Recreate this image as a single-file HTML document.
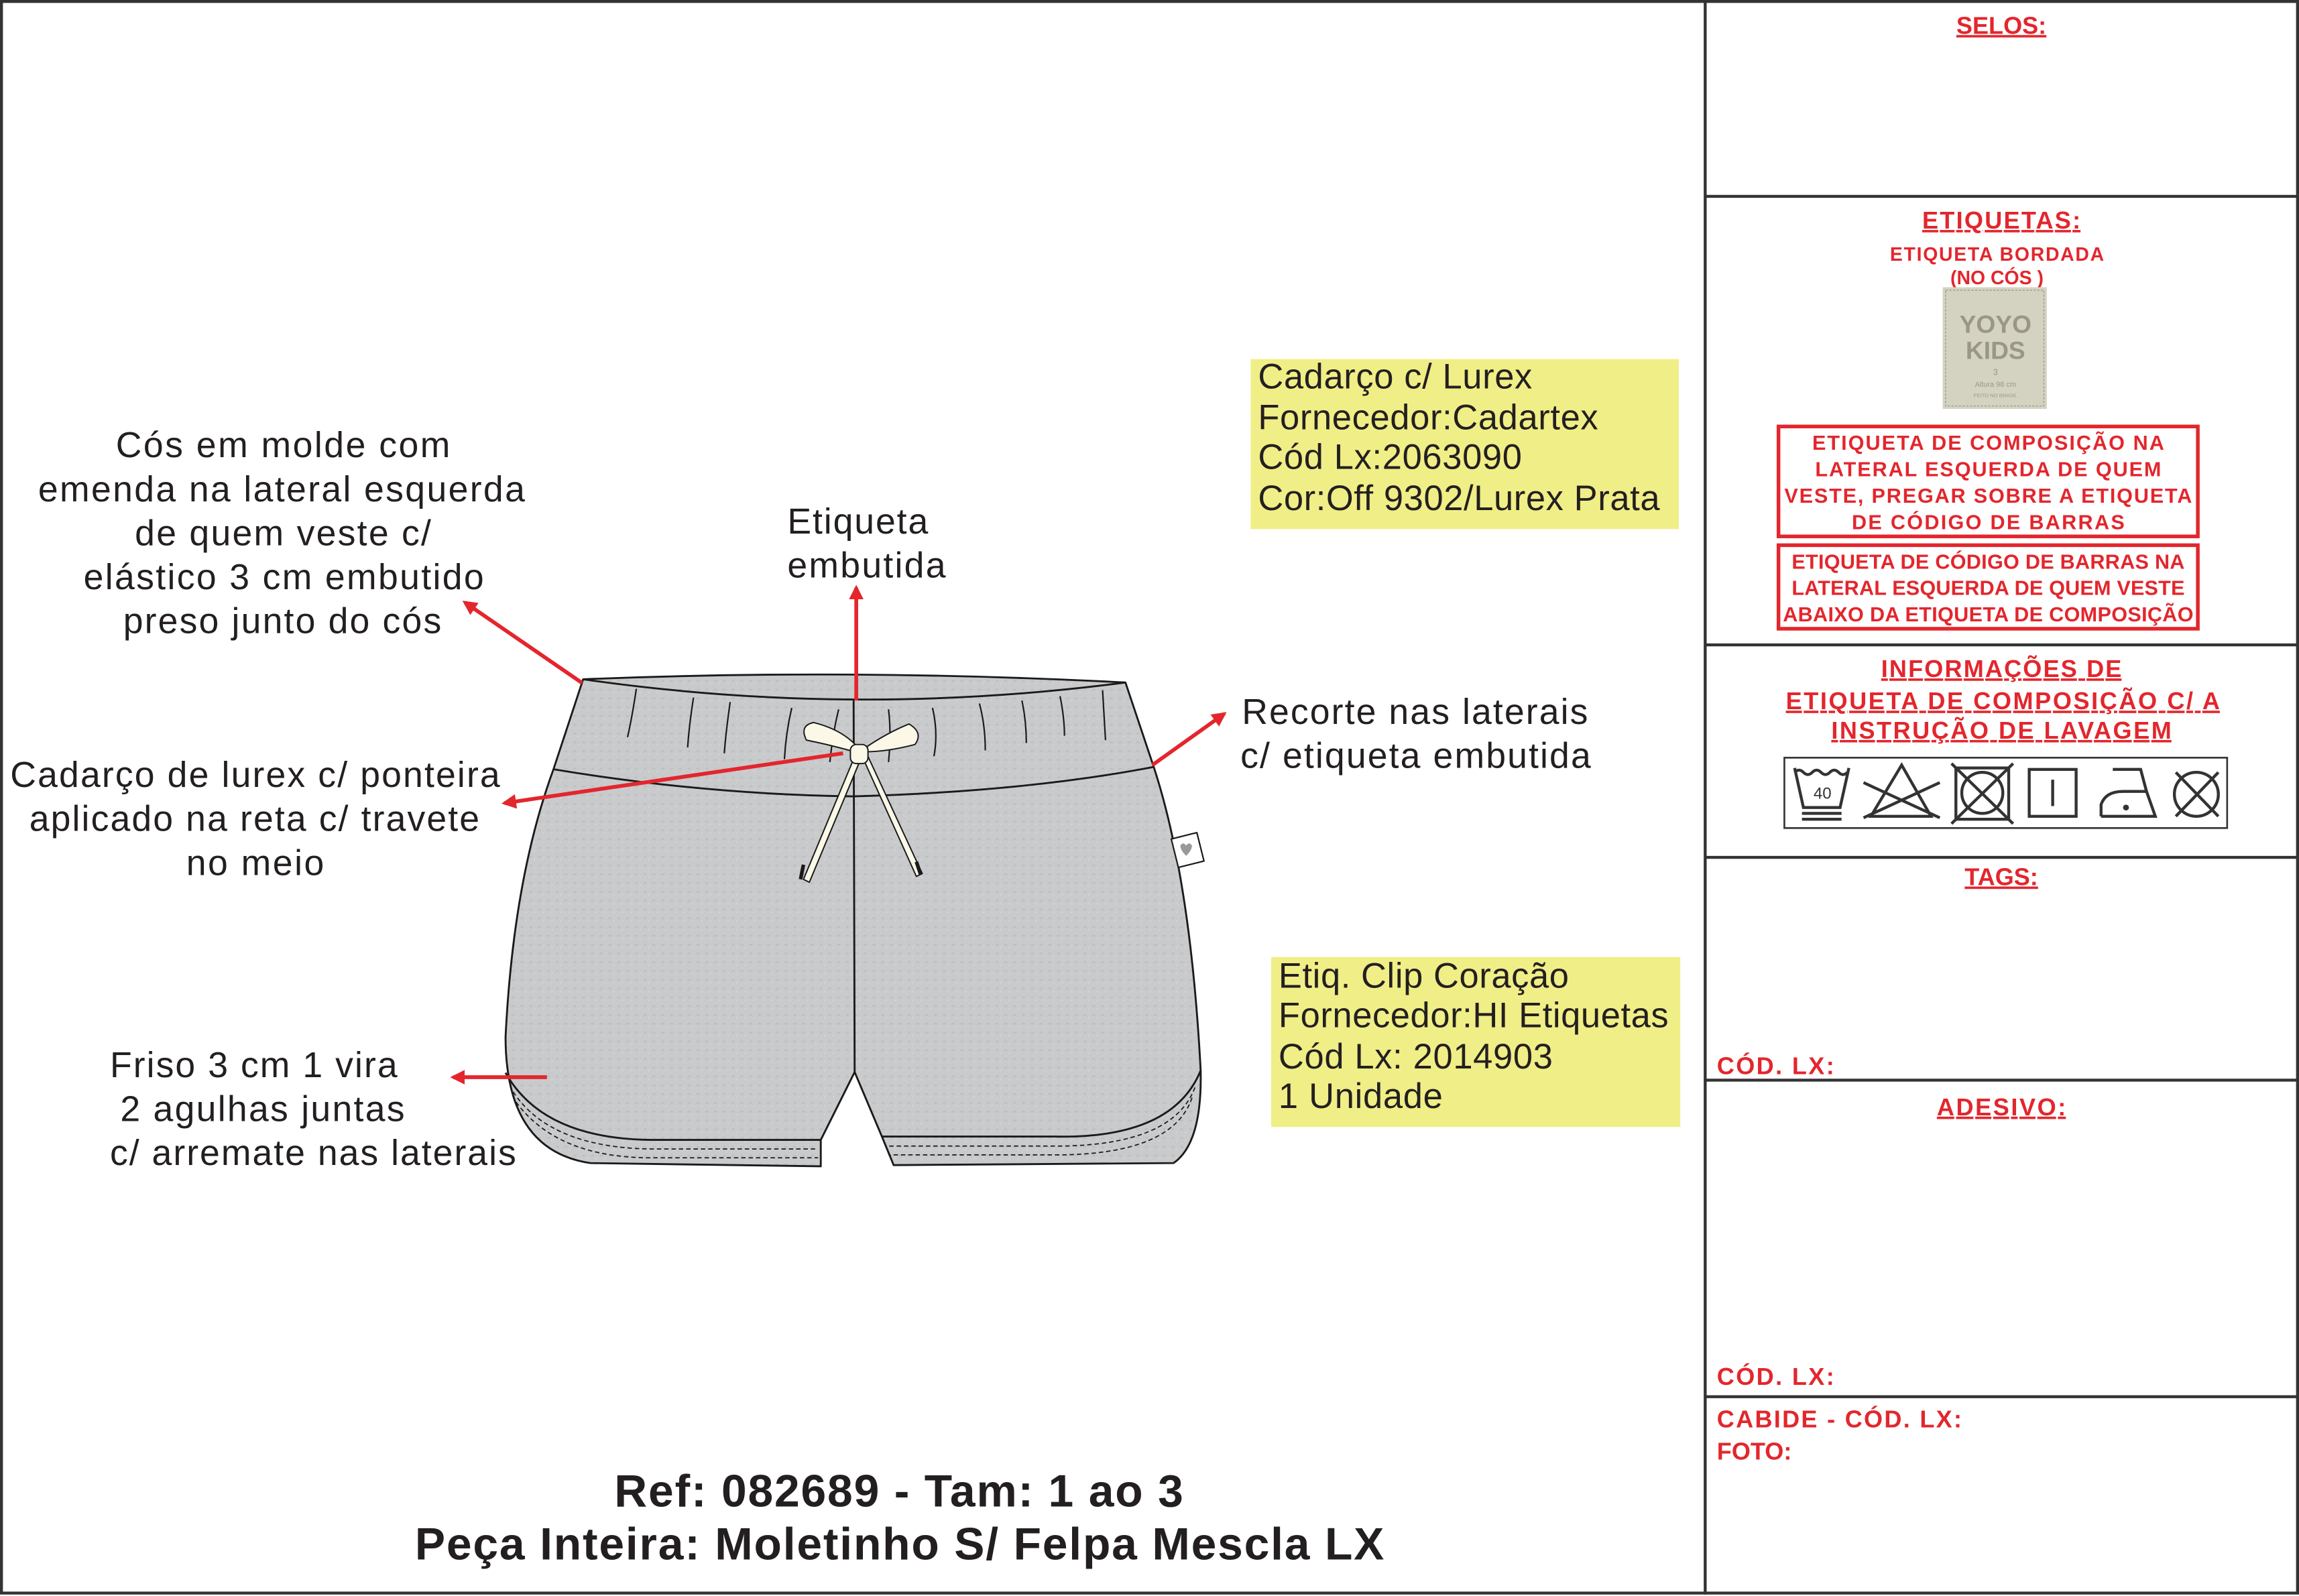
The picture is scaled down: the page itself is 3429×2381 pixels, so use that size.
<!DOCTYPE html>
<html><head><meta charset="utf-8"><style>html,body{margin:0;padding:0;background:#fff}svg{display:block}</style></head>
<body>
<svg width="3429" height="2381" viewBox="0 0 1568 1089" preserveAspectRatio="none" xmlns="http://www.w3.org/2000/svg" font-family="Liberation Sans, Arial, sans-serif">
<defs>
<marker id="ah" markerWidth="10" markerHeight="10" refX="8" refY="5" orient="auto" markerUnits="userSpaceOnUse">
<path d="M0,0 L10,5 L0,10 Z" fill="#e3262d"/></marker>
<pattern id="mesc" width="6" height="6" patternUnits="userSpaceOnUse"><rect width="6" height="6" fill="#c9cacc"/><rect x="1" y="2" width="2" height="1" fill="#bcbdc0"/><rect x="4" y="4" width="1" height="1" fill="#d3d4d6"/></pattern>
</defs>
<rect x="0" y="0" width="1568" height="1089" fill="#fff"/>
<rect x="1" y="1" width="1566" height="1086" fill="none" stroke="#333" stroke-width="2"/>
<line x1="1163" y1="1" x2="1163" y2="1088" stroke="#333" stroke-width="2"/>
<g stroke="#333" stroke-width="2">
<line x1="1163" y1="134" x2="1567" y2="134"/><line x1="1163" y1="440" x2="1567" y2="440"/>
<line x1="1163" y1="585" x2="1567" y2="585"/><line x1="1163" y1="737" x2="1567" y2="737"/>
<line x1="1163" y1="953" x2="1567" y2="953"/></g>

<g fill="#e3262d" font-weight="bold" text-anchor="middle">
<text x="1365" y="23" font-size="16.5" text-decoration="underline">SELOS:</text>
<text x="1365" y="156" font-size="16.5" text-decoration="underline" textLength="108">ETIQUETAS:</text>
<text x="1362" y="178" font-size="13" textLength="146">ETIQUETA BORDADA</text>
<text x="1362" y="194" font-size="13">(NO CÓS )</text>
<text x="1356" y="307" font-size="14" textLength="240">ETIQUETA DE COMPOSIÇÃO NA</text>
<text x="1356" y="325" font-size="14" textLength="236">LATERAL ESQUERDA DE QUEM</text>
<text x="1356" y="343" font-size="14" textLength="278">VESTE, PREGAR SOBRE A ETIQUETA</text>
<text x="1356" y="361" font-size="14" textLength="186">DE CÓDIGO DE BARRAS</text>
<text x="1356" y="388" font-size="14" textLength="268">ETIQUETA DE CÓDIGO DE BARRAS NA</text>
<text x="1356" y="406" font-size="14" textLength="268">LATERAL ESQUERDA DE QUEM VESTE</text>
<text x="1356" y="424" font-size="14" textLength="280">ABAIXO DA ETIQUETA DE COMPOSIÇÃO</text>
<text x="1365" y="462" font-size="16.5" text-decoration="underline" textLength="164">INFORMAÇÕES DE</text>
<text x="1366" y="484" font-size="16.5" text-decoration="underline" textLength="296">ETIQUETA DE COMPOSIÇÃO C/ A </text>
<text x="1365" y="504" font-size="16.5" text-decoration="underline" textLength="232">INSTRUÇÃO DE LAVAGEM</text>
<text x="1365" y="604" font-size="16.5" text-decoration="underline">TAGS:</text>
<text x="1365" y="761" font-size="16.5" text-decoration="underline" textLength="88">ADESIVO:</text>
</g>
<g fill="#e3262d" font-weight="bold" font-size="16.5">
<text x="1171" y="733" textLength="80">CÓD. LX:</text>
<text x="1171" y="945" textLength="80">CÓD. LX:</text>
<text x="1171" y="974" textLength="167">CABIDE - CÓD. LX:</text>
<text x="1171" y="996">FOTO:</text>
</g>
<rect x="1213" y="291" width="286" height="75" fill="none" stroke="#e3262d" stroke-width="2.5"/>
<rect x="1213" y="372" width="286" height="57" fill="none" stroke="#e3262d" stroke-width="2.5"/>

<rect x="1325" y="196" width="71" height="83" fill="#d4d3c1"/>
<rect x="1327" y="198" width="67" height="79" fill="none" stroke="#9a9a8a" stroke-width="0.6" stroke-dasharray="1.5,1"/>
<g fill="#9b9686" text-anchor="middle" font-weight="bold">
<text x="1361" y="227" font-size="17">YOYO</text>
<text x="1361" y="245" font-size="17">KIDS</text>
<text x="1361" y="256" font-size="6" font-weight="normal">3</text>
<text x="1361" y="264" font-size="5" font-weight="normal">Altura 98 cm</text>
<text x="1361" y="271" font-size="3.5" font-weight="normal">FEITO NO BRASIL</text>
</g>

<rect x="1217" y="517" width="302" height="48" fill="#fff" stroke="#333" stroke-width="1.2"/>
<g fill="none" stroke="#333" stroke-width="2">
<path d="M1224,524 L1230,551 L1255,551 L1261,524"/>
<path d="M1224,527 q3,-3 6,0 q3,3 6,0 q3,-3 6,0 q3,3 6,0 q3,-3 6,0 q3,3 6,0"/>
<line x1="1229" y1="555" x2="1256" y2="555"/><line x1="1229" y1="559" x2="1256" y2="559"/>
<path d="M1297,522 L1317,557 L1276,557 Z"/><line x1="1271" y1="534" x2="1323" y2="558"/><line x1="1271" y1="558" x2="1323" y2="534"/>
<rect x="1334" y="524" width="36" height="35"/><circle cx="1352" cy="541" r="14"/><line x1="1331" y1="521" x2="1373" y2="562"/><line x1="1373" y1="521" x2="1331" y2="562"/>
<rect x="1384" y="525" width="32" height="32"/><line x1="1400" y1="532" x2="1400" y2="550"/>
<path d="M1433,557 L1433,549 Q1436,540 1448,540 L1464,540 L1460,525 L1441,525 M1433,557 L1470,557 L1464,540"/>
<circle cx="1498" cy="542" r="15"/><line x1="1484" y1="527" x2="1513" y2="557"/><line x1="1513" y1="527" x2="1484" y2="557"/>
</g>
<circle cx="1450" cy="551" r="2" fill="#333"/>
<text x="1243" y="545" font-size="11" fill="#333" text-anchor="middle">40</text>

<rect x="853" y="245" width="292" height="116" fill="#f0ee86"/>
<rect x="867" y="653" width="279" height="116" fill="#f0ee86"/>
<g fill="#231f20" font-size="24">
<text x="858" y="265" textLength="187">Cadarço c/ Lurex</text>
<text x="858" y="293" textLength="232">Fornecedor:Cadartex</text>
<text x="858" y="320" textLength="180">Cód Lx:2063090</text>
<text x="858" y="348" textLength="274">Cor:Off 9302/Lurex Prata</text>
<text x="872" y="674" textLength="198">Etiq. Clip Coração</text>
<text x="872" y="701" textLength="266">Fornecedor:HI Etiquetas</text>
<text x="872" y="729" textLength="187">Cód Lx: 2014903</text>
<text x="872" y="756" textLength="112">1 Unidade</text>
</g>
<g fill="#231f20" font-size="24.5">
<text x="79" y="312" textLength="228">Cós em molde com</text>
<text x="26" y="342" textLength="332">emenda na lateral esquerda</text>
<text x="92" y="372" textLength="202">de quem veste c/</text>
<text x="57" y="402" textLength="273">elástico 3 cm embutido</text>
<text x="84" y="432" textLength="217">preso junto do cós</text>
<text x="537" y="364" textLength="96">Etiqueta</text>
<text x="537" y="394" textLength="108">embutida</text>
<text x="7" y="537" textLength="334">Cadarço de lurex c/ ponteira</text>
<text x="20" y="567" textLength="307">aplicado na reta c/ travete</text>
<text x="127" y="597" textLength="94">no meio</text>
<text x="75" y="735" textLength="196">Friso 3 cm 1 vira</text>
<text x="82" y="765" textLength="194">2 agulhas juntas</text>
<text x="75" y="795" textLength="277">c/ arremate nas laterais</text>
<text x="847" y="494" textLength="236">Recorte nas laterais</text>
<text x="846" y="524" textLength="239">c/ etiqueta embutida</text>
</g>
<g fill="#231f20" font-size="31" font-weight="bold">
<text x="419" y="1028" textLength="388">Ref: 082689 - Tam: 1 ao 3</text>
<text x="283" y="1064" textLength="661">Peça Inteira: Moletinho S/ Felpa Mescla LX</text>
</g>

<g stroke="#1a1a1a" stroke-width="1.3" stroke-linejoin="round">
<path d="M397.7,463.5 Q582,456 767.6,465.7 L786.9,523.3 Q812,600 818.9,730.4 Q820,780 800.4,793.6 L609.5,795 L601.5,775.5 L582.9,731.5 L559.8,777.8 L559.8,795.8 L402.6,793.6 Q345,785 344.8,707.8 Q350,600 377.5,524.9 Z" fill="url(#mesc)"/>
<path d="M397.7,463.5 Q582,490 767.6,465.7" fill="none"/>
<path d="M377.5,524.9 Q480,542 582.2,543.4 Q700,540 786.9,523.3" fill="none"/>
<path d="M582.2,478 L582.9,731.5" fill="none"/>
<path d="M344.8,732 Q370,777 444,777.8 L559.8,777.8" fill="none"/>
<path d="M818.9,730.4 Q800,777 720,775.5 L601.5,775.5" fill="none"/>
<g stroke-dasharray="3,2" stroke-width="0.8" fill="none">
<path d="M350,745 Q375,783 444,784 L558,784"/><path d="M352,752 Q380,790 444,790 L558,790"/>
<path d="M815,742 Q800,782 720,782 L604,782"/><path d="M813,749 Q800,788 720,788 L606,788"/>
</g>
<g fill="none" stroke-width="1">
<path d="M434,470 Q431,490 428,503"/><path d="M473,476 Q470,495 469,510"/><path d="M498,479 Q495,500 494,514"/>
<path d="M540,483 Q536,500 535,518"/><path d="M572,484 Q568,500 566,520"/><path d="M606,484 Q608,500 606,520"/>
<path d="M636,483 Q640,500 637,516"/><path d="M668,480 Q672,495 672,512"/><path d="M697,478 Q700,492 700,507"/>
<path d="M723,475 Q726,490 726,502"/><path d="M752,471 Q753,488 754,505"/>
</g>
<g fill="#fbf8e8" stroke-width="0.9">
<path d="M583,516 L548,600 L552,602 L587,518 Z"/><path d="M588,516 L625,598 L629,596 L591,514 Z"/>
<path d="M583,513 Q565,508 550,505 Q545,495 555,493 Q575,498 585,510 Z"/>
<path d="M589,511 Q605,500 620,494 Q630,500 624,508 Q605,513 589,513 Z"/>
<rect x="580" y="508" width="12" height="13" rx="4"/>
</g>
<path d="M548,590 L546,600 M625,588 L628,597" stroke-width="2.5"/>
<g transform="rotate(-14 810 580)"><rect x="801" y="570" width="18" height="20" fill="#fff" stroke-width="1"/></g>
</g>
<path d="M805,577 q2,-3 4,0 q2,-3 4,0 q0,3 -4,7 q-4,-4 -4,-7z" fill="#999"/>

<g stroke="#e3262d" stroke-width="2.6" marker-end="url(#ah)">
<line x1="397" y1="466" x2="317" y2="411"/>
<line x1="584" y1="478" x2="584" y2="401"/>
<line x1="575" y1="514" x2="344" y2="548"/>
<line x1="786" y1="522" x2="835" y2="487"/>
<line x1="373" y1="735" x2="309" y2="735"/>
</g>
</svg>
</body></html>
